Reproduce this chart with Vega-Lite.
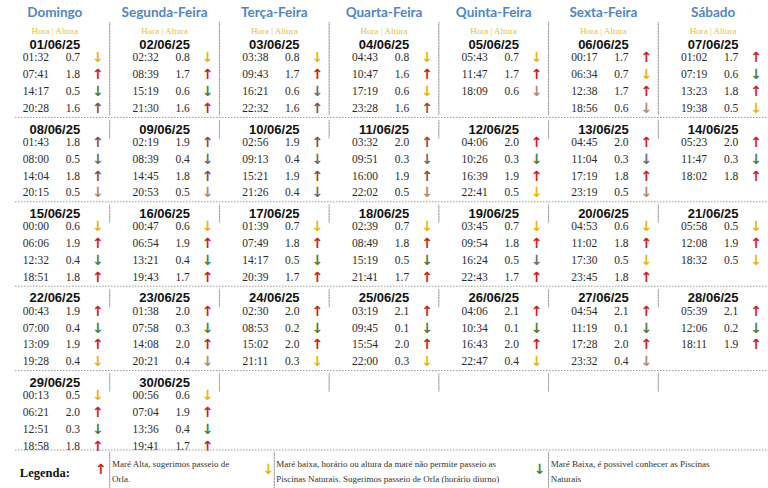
{
"$schema": "https://vega.github.io/schema/vega-lite/v6.json",
"width": 768, "height": 488, "padding": 0, "autosize": {"type": "none"},
"background": "white",
"config": {"view": {"stroke": null}},
"datasets": {
"dias": [{"dia":"Domingo"},{"dia":"Segunda-Feira"},{"dia":"Terça-Feira"},{"dia":"Quarta-Feira"},{"dia":"Quinta-Feira"},{"dia":"Sexta-Feira"},{"dia":"Sábado"}],
"grade": [
{"semana":1,"dias":["Domingo","Segunda-Feira","Terça-Feira","Quarta-Feira","Quinta-Feira","Sexta-Feira"]},
{"semana":2,"dias":["Domingo","Segunda-Feira","Terça-Feira","Quarta-Feira","Quinta-Feira","Sexta-Feira"]},
{"semana":3,"dias":["Domingo","Segunda-Feira","Terça-Feira","Quarta-Feira","Quinta-Feira","Sexta-Feira"]},
{"semana":4,"dias":["Domingo","Segunda-Feira","Terça-Feira","Quarta-Feira","Quinta-Feira","Sexta-Feira"]},
{"semana":5,"dias":["Domingo","Segunda-Feira","Terça-Feira","Quarta-Feira","Quinta-Feira","Sexta-Feira"]}
],
"legenda": [
{"item":"alta","dia":"Domingo","dia_texto":"Segunda-Feira","seta":"↑","tipo":"alta","texto":["Maré Alta, sugerimos passeio de","Orla."]},
{"item":"baixa","dia":"Terça-Feira","dia_texto":"Terça-Feira","seta":"↓","tipo":"baixa","texto":["Maré baixa, horário ou altura da maré não permite passeio as","Piscinas Naturais. Sugerimos passeio de Orla (horário diurno)"]},
{"item":"piscina","dia":"Quinta-Feira","dia_texto":"Sexta-Feira","seta":"↓","tipo":"piscina","texto":["Maré Baixa, é possivel conhecer as Piscinas","Naturais"]}
],
"mares": [
{"data":"01/06/25","dia":"Domingo","semana":1,"linha":1,"hora":"01:32","altura":0.7,"seta":"↓","tipo":"baixa"},
{"data":"01/06/25","dia":"Domingo","semana":1,"linha":2,"hora":"07:41","altura":1.8,"seta":"↑","tipo":"alta"},
{"data":"01/06/25","dia":"Domingo","semana":1,"linha":3,"hora":"14:17","altura":0.5,"seta":"↓","tipo":"piscina"},
{"data":"01/06/25","dia":"Domingo","semana":1,"linha":4,"hora":"20:28","altura":1.6,"seta":"↑","tipo":"alta_esc"},
{"data":"02/06/25","dia":"Segunda-Feira","semana":1,"linha":1,"hora":"02:32","altura":0.8,"seta":"↓","tipo":"baixa"},
{"data":"02/06/25","dia":"Segunda-Feira","semana":1,"linha":2,"hora":"08:39","altura":1.7,"seta":"↑","tipo":"alta"},
{"data":"02/06/25","dia":"Segunda-Feira","semana":1,"linha":3,"hora":"15:19","altura":0.6,"seta":"↓","tipo":"piscina"},
{"data":"02/06/25","dia":"Segunda-Feira","semana":1,"linha":4,"hora":"21:30","altura":1.6,"seta":"↑","tipo":"alta"},
{"data":"03/06/25","dia":"Terça-Feira","semana":1,"linha":1,"hora":"03:38","altura":0.8,"seta":"↓","tipo":"baixa"},
{"data":"03/06/25","dia":"Terça-Feira","semana":1,"linha":2,"hora":"09:43","altura":1.7,"seta":"↑","tipo":"alta"},
{"data":"03/06/25","dia":"Terça-Feira","semana":1,"linha":3,"hora":"16:21","altura":0.6,"seta":"↓","tipo":"piscina_esc"},
{"data":"03/06/25","dia":"Terça-Feira","semana":1,"linha":4,"hora":"22:32","altura":1.6,"seta":"↑","tipo":"alta_esc"},
{"data":"04/06/25","dia":"Quarta-Feira","semana":1,"linha":1,"hora":"04:43","altura":0.8,"seta":"↓","tipo":"baixa"},
{"data":"04/06/25","dia":"Quarta-Feira","semana":1,"linha":2,"hora":"10:47","altura":1.6,"seta":"↑","tipo":"alta"},
{"data":"04/06/25","dia":"Quarta-Feira","semana":1,"linha":3,"hora":"17:19","altura":0.6,"seta":"↓","tipo":"baixa"},
{"data":"04/06/25","dia":"Quarta-Feira","semana":1,"linha":4,"hora":"23:28","altura":1.6,"seta":"↑","tipo":"alta_esc"},
{"data":"05/06/25","dia":"Quinta-Feira","semana":1,"linha":1,"hora":"05:43","altura":0.7,"seta":"↓","tipo":"baixa"},
{"data":"05/06/25","dia":"Quinta-Feira","semana":1,"linha":2,"hora":"11:47","altura":1.7,"seta":"↑","tipo":"alta"},
{"data":"05/06/25","dia":"Quinta-Feira","semana":1,"linha":3,"hora":"18:09","altura":0.6,"seta":"↓","tipo":"baixa_esc"},
{"data":"06/06/25","dia":"Sexta-Feira","semana":1,"linha":1,"hora":"00:17","altura":1.7,"seta":"↑","tipo":"alta"},
{"data":"06/06/25","dia":"Sexta-Feira","semana":1,"linha":2,"hora":"06:34","altura":0.7,"seta":"↓","tipo":"baixa"},
{"data":"06/06/25","dia":"Sexta-Feira","semana":1,"linha":3,"hora":"12:38","altura":1.7,"seta":"↑","tipo":"alta"},
{"data":"06/06/25","dia":"Sexta-Feira","semana":1,"linha":4,"hora":"18:56","altura":0.6,"seta":"↓","tipo":"baixa_esc"},
{"data":"07/06/25","dia":"Sábado","semana":1,"linha":1,"hora":"01:02","altura":1.7,"seta":"↑","tipo":"alta"},
{"data":"07/06/25","dia":"Sábado","semana":1,"linha":2,"hora":"07:19","altura":0.6,"seta":"↓","tipo":"piscina"},
{"data":"07/06/25","dia":"Sábado","semana":1,"linha":3,"hora":"13:23","altura":1.8,"seta":"↑","tipo":"alta"},
{"data":"07/06/25","dia":"Sábado","semana":1,"linha":4,"hora":"19:38","altura":0.5,"seta":"↓","tipo":"baixa"},
{"data":"08/06/25","dia":"Domingo","semana":2,"linha":1,"hora":"01:43","altura":1.8,"seta":"↑","tipo":"alta_esc"},
{"data":"08/06/25","dia":"Domingo","semana":2,"linha":2,"hora":"08:00","altura":0.5,"seta":"↓","tipo":"piscina_esc"},
{"data":"08/06/25","dia":"Domingo","semana":2,"linha":3,"hora":"14:04","altura":1.8,"seta":"↑","tipo":"alta_esc"},
{"data":"08/06/25","dia":"Domingo","semana":2,"linha":4,"hora":"20:15","altura":0.5,"seta":"↓","tipo":"baixa_esc"},
{"data":"09/06/25","dia":"Segunda-Feira","semana":2,"linha":1,"hora":"02:19","altura":1.9,"seta":"↑","tipo":"alta_esc"},
{"data":"09/06/25","dia":"Segunda-Feira","semana":2,"linha":2,"hora":"08:39","altura":0.4,"seta":"↓","tipo":"piscina_esc"},
{"data":"09/06/25","dia":"Segunda-Feira","semana":2,"linha":3,"hora":"14:45","altura":1.8,"seta":"↑","tipo":"alta_esc"},
{"data":"09/06/25","dia":"Segunda-Feira","semana":2,"linha":4,"hora":"20:53","altura":0.5,"seta":"↓","tipo":"baixa_esc"},
{"data":"10/06/25","dia":"Terça-Feira","semana":2,"linha":1,"hora":"02:56","altura":1.9,"seta":"↑","tipo":"alta_esc"},
{"data":"10/06/25","dia":"Terça-Feira","semana":2,"linha":2,"hora":"09:13","altura":0.4,"seta":"↓","tipo":"piscina_esc"},
{"data":"10/06/25","dia":"Terça-Feira","semana":2,"linha":3,"hora":"15:21","altura":1.9,"seta":"↑","tipo":"alta_esc"},
{"data":"10/06/25","dia":"Terça-Feira","semana":2,"linha":4,"hora":"21:26","altura":0.4,"seta":"↓","tipo":"piscina_esc"},
{"data":"11/06/25","dia":"Quarta-Feira","semana":2,"linha":1,"hora":"03:32","altura":2.0,"seta":"↑","tipo":"alta_esc"},
{"data":"11/06/25","dia":"Quarta-Feira","semana":2,"linha":2,"hora":"09:51","altura":0.3,"seta":"↓","tipo":"piscina_esc"},
{"data":"11/06/25","dia":"Quarta-Feira","semana":2,"linha":3,"hora":"16:00","altura":1.9,"seta":"↑","tipo":"alta_esc"},
{"data":"11/06/25","dia":"Quarta-Feira","semana":2,"linha":4,"hora":"22:02","altura":0.5,"seta":"↓","tipo":"baixa_esc"},
{"data":"12/06/25","dia":"Quinta-Feira","semana":2,"linha":1,"hora":"04:06","altura":2.0,"seta":"↑","tipo":"alta"},
{"data":"12/06/25","dia":"Quinta-Feira","semana":2,"linha":2,"hora":"10:26","altura":0.3,"seta":"↓","tipo":"piscina"},
{"data":"12/06/25","dia":"Quinta-Feira","semana":2,"linha":3,"hora":"16:39","altura":1.9,"seta":"↑","tipo":"alta"},
{"data":"12/06/25","dia":"Quinta-Feira","semana":2,"linha":4,"hora":"22:41","altura":0.5,"seta":"↓","tipo":"baixa"},
{"data":"13/06/25","dia":"Sexta-Feira","semana":2,"linha":1,"hora":"04:45","altura":2.0,"seta":"↑","tipo":"alta"},
{"data":"13/06/25","dia":"Sexta-Feira","semana":2,"linha":2,"hora":"11:04","altura":0.3,"seta":"↓","tipo":"piscina_esc"},
{"data":"13/06/25","dia":"Sexta-Feira","semana":2,"linha":3,"hora":"17:19","altura":1.8,"seta":"↑","tipo":"alta"},
{"data":"13/06/25","dia":"Sexta-Feira","semana":2,"linha":4,"hora":"23:19","altura":0.5,"seta":"↓","tipo":"baixa_esc"},
{"data":"14/06/25","dia":"Sábado","semana":2,"linha":1,"hora":"05:23","altura":2.0,"seta":"↑","tipo":"alta"},
{"data":"14/06/25","dia":"Sábado","semana":2,"linha":2,"hora":"11:47","altura":0.3,"seta":"↓","tipo":"piscina"},
{"data":"14/06/25","dia":"Sábado","semana":2,"linha":3,"hora":"18:02","altura":1.8,"seta":"↑","tipo":"alta"},
{"data":"15/06/25","dia":"Domingo","semana":3,"linha":1,"hora":"00:00","altura":0.6,"seta":"↓","tipo":"baixa"},
{"data":"15/06/25","dia":"Domingo","semana":3,"linha":2,"hora":"06:06","altura":1.9,"seta":"↑","tipo":"alta"},
{"data":"15/06/25","dia":"Domingo","semana":3,"linha":3,"hora":"12:32","altura":0.4,"seta":"↓","tipo":"piscina"},
{"data":"15/06/25","dia":"Domingo","semana":3,"linha":4,"hora":"18:51","altura":1.8,"seta":"↑","tipo":"alta"},
{"data":"16/06/25","dia":"Segunda-Feira","semana":3,"linha":1,"hora":"00:47","altura":0.6,"seta":"↓","tipo":"baixa"},
{"data":"16/06/25","dia":"Segunda-Feira","semana":3,"linha":2,"hora":"06:54","altura":1.9,"seta":"↑","tipo":"alta"},
{"data":"16/06/25","dia":"Segunda-Feira","semana":3,"linha":3,"hora":"13:21","altura":0.4,"seta":"↓","tipo":"piscina"},
{"data":"16/06/25","dia":"Segunda-Feira","semana":3,"linha":4,"hora":"19:43","altura":1.7,"seta":"↑","tipo":"alta"},
{"data":"17/06/25","dia":"Terça-Feira","semana":3,"linha":1,"hora":"01:39","altura":0.7,"seta":"↓","tipo":"baixa"},
{"data":"17/06/25","dia":"Terça-Feira","semana":3,"linha":2,"hora":"07:49","altura":1.8,"seta":"↑","tipo":"alta"},
{"data":"17/06/25","dia":"Terça-Feira","semana":3,"linha":3,"hora":"14:17","altura":0.5,"seta":"↓","tipo":"piscina"},
{"data":"17/06/25","dia":"Terça-Feira","semana":3,"linha":4,"hora":"20:39","altura":1.7,"seta":"↑","tipo":"alta"},
{"data":"18/06/25","dia":"Quarta-Feira","semana":3,"linha":1,"hora":"02:39","altura":0.7,"seta":"↓","tipo":"baixa"},
{"data":"18/06/25","dia":"Quarta-Feira","semana":3,"linha":2,"hora":"08:49","altura":1.8,"seta":"↑","tipo":"alta"},
{"data":"18/06/25","dia":"Quarta-Feira","semana":3,"linha":3,"hora":"15:19","altura":0.5,"seta":"↓","tipo":"piscina"},
{"data":"18/06/25","dia":"Quarta-Feira","semana":3,"linha":4,"hora":"21:41","altura":1.7,"seta":"↑","tipo":"alta"},
{"data":"19/06/25","dia":"Quinta-Feira","semana":3,"linha":1,"hora":"03:45","altura":0.7,"seta":"↓","tipo":"baixa"},
{"data":"19/06/25","dia":"Quinta-Feira","semana":3,"linha":2,"hora":"09:54","altura":1.8,"seta":"↑","tipo":"alta"},
{"data":"19/06/25","dia":"Quinta-Feira","semana":3,"linha":3,"hora":"16:24","altura":0.5,"seta":"↓","tipo":"piscina_esc"},
{"data":"19/06/25","dia":"Quinta-Feira","semana":3,"linha":4,"hora":"22:43","altura":1.7,"seta":"↑","tipo":"alta"},
{"data":"20/06/25","dia":"Sexta-Feira","semana":3,"linha":1,"hora":"04:53","altura":0.6,"seta":"↓","tipo":"baixa"},
{"data":"20/06/25","dia":"Sexta-Feira","semana":3,"linha":2,"hora":"11:02","altura":1.8,"seta":"↑","tipo":"alta"},
{"data":"20/06/25","dia":"Sexta-Feira","semana":3,"linha":3,"hora":"17:30","altura":0.5,"seta":"↓","tipo":"baixa"},
{"data":"20/06/25","dia":"Sexta-Feira","semana":3,"linha":4,"hora":"23:45","altura":1.8,"seta":"↑","tipo":"alta"},
{"data":"21/06/25","dia":"Sábado","semana":3,"linha":1,"hora":"05:58","altura":0.5,"seta":"↓","tipo":"baixa"},
{"data":"21/06/25","dia":"Sábado","semana":3,"linha":2,"hora":"12:08","altura":1.9,"seta":"↑","tipo":"alta"},
{"data":"21/06/25","dia":"Sábado","semana":3,"linha":3,"hora":"18:32","altura":0.5,"seta":"↓","tipo":"baixa"},
{"data":"22/06/25","dia":"Domingo","semana":4,"linha":1,"hora":"00:43","altura":1.9,"seta":"↑","tipo":"alta"},
{"data":"22/06/25","dia":"Domingo","semana":4,"linha":2,"hora":"07:00","altura":0.4,"seta":"↓","tipo":"piscina"},
{"data":"22/06/25","dia":"Domingo","semana":4,"linha":3,"hora":"13:09","altura":1.9,"seta":"↑","tipo":"alta"},
{"data":"22/06/25","dia":"Domingo","semana":4,"linha":4,"hora":"19:28","altura":0.4,"seta":"↓","tipo":"baixa"},
{"data":"23/06/25","dia":"Segunda-Feira","semana":4,"linha":1,"hora":"01:38","altura":2.0,"seta":"↑","tipo":"alta"},
{"data":"23/06/25","dia":"Segunda-Feira","semana":4,"linha":2,"hora":"07:58","altura":0.3,"seta":"↓","tipo":"piscina"},
{"data":"23/06/25","dia":"Segunda-Feira","semana":4,"linha":3,"hora":"14:08","altura":2.0,"seta":"↑","tipo":"alta"},
{"data":"23/06/25","dia":"Segunda-Feira","semana":4,"linha":4,"hora":"20:21","altura":0.4,"seta":"↓","tipo":"baixa_esc"},
{"data":"24/06/25","dia":"Terça-Feira","semana":4,"linha":1,"hora":"02:30","altura":2.0,"seta":"↑","tipo":"alta"},
{"data":"24/06/25","dia":"Terça-Feira","semana":4,"linha":2,"hora":"08:53","altura":0.2,"seta":"↓","tipo":"piscina"},
{"data":"24/06/25","dia":"Terça-Feira","semana":4,"linha":3,"hora":"15:02","altura":2.0,"seta":"↑","tipo":"alta"},
{"data":"24/06/25","dia":"Terça-Feira","semana":4,"linha":4,"hora":"21:11","altura":0.3,"seta":"↓","tipo":"baixa"},
{"data":"25/06/25","dia":"Quarta-Feira","semana":4,"linha":1,"hora":"03:19","altura":2.1,"seta":"↑","tipo":"alta"},
{"data":"25/06/25","dia":"Quarta-Feira","semana":4,"linha":2,"hora":"09:45","altura":0.1,"seta":"↓","tipo":"piscina"},
{"data":"25/06/25","dia":"Quarta-Feira","semana":4,"linha":3,"hora":"15:54","altura":2.0,"seta":"↑","tipo":"alta"},
{"data":"25/06/25","dia":"Quarta-Feira","semana":4,"linha":4,"hora":"22:00","altura":0.3,"seta":"↓","tipo":"baixa"},
{"data":"26/06/25","dia":"Quinta-Feira","semana":4,"linha":1,"hora":"04:06","altura":2.1,"seta":"↑","tipo":"alta"},
{"data":"26/06/25","dia":"Quinta-Feira","semana":4,"linha":2,"hora":"10:34","altura":0.1,"seta":"↓","tipo":"piscina"},
{"data":"26/06/25","dia":"Quinta-Feira","semana":4,"linha":3,"hora":"16:43","altura":2.0,"seta":"↑","tipo":"alta"},
{"data":"26/06/25","dia":"Quinta-Feira","semana":4,"linha":4,"hora":"22:47","altura":0.4,"seta":"↓","tipo":"baixa"},
{"data":"27/06/25","dia":"Sexta-Feira","semana":4,"linha":1,"hora":"04:54","altura":2.1,"seta":"↑","tipo":"alta"},
{"data":"27/06/25","dia":"Sexta-Feira","semana":4,"linha":2,"hora":"11:19","altura":0.1,"seta":"↓","tipo":"piscina"},
{"data":"27/06/25","dia":"Sexta-Feira","semana":4,"linha":3,"hora":"17:28","altura":2.0,"seta":"↑","tipo":"alta"},
{"data":"27/06/25","dia":"Sexta-Feira","semana":4,"linha":4,"hora":"23:32","altura":0.4,"seta":"↓","tipo":"baixa_esc"},
{"data":"28/06/25","dia":"Sábado","semana":4,"linha":1,"hora":"05:39","altura":2.1,"seta":"↑","tipo":"alta"},
{"data":"28/06/25","dia":"Sábado","semana":4,"linha":2,"hora":"12:06","altura":0.2,"seta":"↓","tipo":"piscina"},
{"data":"28/06/25","dia":"Sábado","semana":4,"linha":3,"hora":"18:11","altura":1.9,"seta":"↑","tipo":"alta"},
{"data":"29/06/25","dia":"Domingo","semana":5,"linha":1,"hora":"00:13","altura":0.5,"seta":"↓","tipo":"baixa"},
{"data":"29/06/25","dia":"Domingo","semana":5,"linha":2,"hora":"06:21","altura":2.0,"seta":"↑","tipo":"alta"},
{"data":"29/06/25","dia":"Domingo","semana":5,"linha":3,"hora":"12:51","altura":0.3,"seta":"↓","tipo":"piscina"},
{"data":"29/06/25","dia":"Domingo","semana":5,"linha":4,"hora":"18:58","altura":1.8,"seta":"↑","tipo":"alta"},
{"data":"30/06/25","dia":"Segunda-Feira","semana":5,"linha":1,"hora":"00:56","altura":0.6,"seta":"↓","tipo":"baixa"},
{"data":"30/06/25","dia":"Segunda-Feira","semana":5,"linha":2,"hora":"07:04","altura":1.9,"seta":"↑","tipo":"alta"},
{"data":"30/06/25","dia":"Segunda-Feira","semana":5,"linha":3,"hora":"13:36","altura":0.4,"seta":"↓","tipo":"piscina"},
{"data":"30/06/25","dia":"Segunda-Feira","semana":5,"linha":4,"hora":"19:41","altura":1.7,"seta":"↑","tipo":"alta"}
]
},
"layer": [
{"data":{"name":"dias"},
 "mark":{"type":"text","font":"Lato","fontWeight":"bold","fontSize":13.5,"color":"#4f86c6","dy":-62},
 "encoding":{
  "x":{"field":"dia","type":"ordinal","axis":null,"scale":{"domain":["Domingo","Segunda-Feira","Terça-Feira","Quarta-Feira","Quinta-Feira","Sexta-Feira","Sábado"],"paddingInner":0,"paddingOuter":0}},
  "y":{"datum":1,"type":"ordinal","axis":null,"scale":{"domain":[1,2,3,4,5],"paddingInner":0,"paddingOuter":0.391}},
  "text":{"field":"dia"}}},
{"data":{"name":"dias"},
 "mark":{"type":"text","font":"Liberation Serif","fontSize":9,"color":"#e6c23a","dy":-44},
 "encoding":{
  "x":{"field":"dia","type":"ordinal","axis":null},
  "y":{"datum":1,"type":"ordinal","axis":null},
  "text":{"value":"Hora | Altura"}}},
{"data":{"name":"mares"},
 "transform":[{"aggregate":[{"op":"count","as":"n"}],"groupby":["data","dia","semana"]}],
 "mark":{"type":"text","font":"Liberation Sans","fontWeight":"bold","fontSize":13,"color":"#111111","dy":-30},
 "encoding":{
  "x":{"field":"dia","type":"ordinal","axis":null},
  "y":{"field":"semana","type":"ordinal","axis":null},
  "text":{"field":"data"}}},
{"data":{"name":"mares"},
 "mark":{"type":"text","font":"Liberation Serif","fontSize":11.5,"color":"#2b2b2b","dx":-19},
 "encoding":{
  "x":{"field":"dia","type":"ordinal","axis":null},
  "y":{"field":"semana","type":"ordinal","axis":null},
  "yOffset":{"field":"linha","type":"ordinal","scale":{"type":"point","domain":[1,2,3,4],"padding":1.258,"align":0.753}},
  "text":{"field":"hora"}}},
{"data":{"name":"mares"},
 "mark":{"type":"text","font":"Liberation Serif","fontSize":11.5,"color":"#2b2b2b","dx":18},
 "encoding":{
  "x":{"field":"dia","type":"ordinal","axis":null},
  "y":{"field":"semana","type":"ordinal","axis":null},
  "yOffset":{"field":"linha","type":"ordinal"},
  "text":{"field":"altura","format":".1f"}}},
{"data":{"name":"mares"},
 "mark":{"type":"text","font":"DejaVu Sans","fontWeight":"bold","fontSize":14,"dx":43},
 "encoding":{
  "x":{"field":"dia","type":"ordinal","axis":null},
  "y":{"field":"semana","type":"ordinal","axis":null},
  "yOffset":{"field":"linha","type":"ordinal"},
  "color":{"field":"tipo","type":"nominal","legend":null,"scale":{"domain":["alta","alta_esc","baixa","baixa_esc","piscina","piscina_esc"],"range":["#d01c1c","#8a4f42","#f0b400","#b8876a","#4e7f3a","#6d6d6d"]}},
  "text":{"field":"seta"}}},
{"data":{"name":"grade"},
 "transform":[{"flatten":["dias"],"as":["dia"]},{"filter":"datum.semana > 1"}],
 "mark":{"type":"rect","filled":false,"color":"#9a9a9a","strokeWidth":1,"strokeDash":[1.5,1.5],"width":0.1,"height":{"band":0.93},"xOffset":54.86},
 "encoding":{
  "x":{"field":"dia","type":"ordinal","axis":null},
  "y":{"field":"semana","type":"ordinal","axis":null}}},
{"data":{"name":"grade"},
 "transform":[{"flatten":["dias"],"as":["dia"]},{"filter":"datum.semana == 1"}],
 "mark":{"type":"rect","filled":false,"color":"#9a9a9a","strokeWidth":1,"strokeDash":[1.5,1.5],"width":0.1,"height":93,"yOffset":-6.7,"xOffset":54.86},
 "encoding":{
  "x":{"field":"dia","type":"ordinal","axis":null},
  "y":{"field":"semana","type":"ordinal","axis":null}}},
{"data":{"values":[{"semana":1},{"semana":2},{"semana":3},{"semana":4}]},
 "mark":{"type":"rule","color":"#9a9a9a","strokeWidth":1,"strokeDash":[1.5,1.5],"xOffset":15,"x2Offset":94},
 "encoding":{
  "x":{"datum":"Domingo","type":"ordinal","bandPosition":0,"axis":null},
  "x2":{"datum":"Sábado"},
  "y":{"field":"semana","type":"ordinal","bandPosition":1,"axis":null}}},
{"data":{"values":[{"semana":5}]},
 "mark":{"type":"rule","color":"#9a9a9a","strokeWidth":1,"strokeDash":[1.5,1.5],"yOffset":-5,"xOffset":15,"x2Offset":94},
 "encoding":{
  "x":{"datum":"Domingo","type":"ordinal","bandPosition":0,"axis":null},
  "x2":{"datum":"Sábado"},
  "y":{"field":"semana","type":"ordinal","bandPosition":1,"axis":null}}},
{"data":{"values":[{"dia":"Domingo","texto":"Legenda:"}]},
 "mark":{"type":"text","align":"left","font":"Liberation Serif","fontWeight":"bold","fontSize":12.5,"color":"#111111","dx":-35,"dy":60},
 "encoding":{
  "x":{"field":"dia","type":"ordinal","axis":null},
  "y":{"datum":5,"type":"ordinal","axis":null},
  "text":{"field":"texto"}}},
{"data":{"name":"legenda"},
 "transform":[{"filter":"datum.item != 'baixa'"}],
 "mark":{"type":"text","font":"DejaVu Sans","fontWeight":"bold","fontSize":14,"dx":46,"dy":57},
 "encoding":{
  "x":{"field":"dia","type":"ordinal","axis":null},
  "y":{"datum":5,"type":"ordinal","axis":null},
  "color":{"field":"tipo","type":"nominal","legend":null},
  "text":{"field":"seta"}}},
{"data":{"name":"legenda"},
 "transform":[{"filter":"datum.item == 'baixa'"}],
 "mark":{"type":"text","font":"DejaVu Sans","fontWeight":"bold","fontSize":14,"dx":-6,"dy":57},
 "encoding":{
  "x":{"field":"dia","type":"ordinal","axis":null},
  "y":{"datum":5,"type":"ordinal","axis":null},
  "color":{"field":"tipo","type":"nominal","legend":null},
  "text":{"field":"seta"}}},
{"data":{"name":"legenda"},
 "transform":[{"filter":"datum.item != 'baixa'"}],
 "mark":{"type":"text","align":"left","font":"Liberation Serif","fontSize":9,"lineHeight":15,"color":"#333333","dx":-52.6,"dy":51.5},
 "encoding":{
  "x":{"field":"dia_texto","type":"ordinal","axis":null},
  "y":{"datum":5,"type":"ordinal","axis":null},
  "text":{"field":"texto"}}},
{"data":{"name":"legenda"},
 "transform":[{"filter":"datum.item == 'baixa'"}],
 "mark":{"type":"text","align":"left","font":"Liberation Serif","fontSize":9,"lineHeight":15,"color":"#333333","dx":2,"dy":51.5},
 "encoding":{
  "x":{"field":"dia_texto","type":"ordinal","axis":null},
  "y":{"datum":5,"type":"ordinal","axis":null},
  "text":{"field":"texto"}}},
{"data":{"name":"legenda"},
 "transform":[{"filter":"datum.item != 'baixa'"}],
 "mark":{"type":"rect","filled":false,"color":"#9a9a9a","strokeWidth":1,"strokeDash":[1.5,1.5],"width":0.1,"height":36,"yOffset":57.2,"xOffset":54.86},
 "encoding":{
  "x":{"field":"dia","type":"ordinal","axis":null},
  "y":{"datum":5,"type":"ordinal","axis":null}}},
{"data":{"name":"legenda"},
 "transform":[{"filter":"datum.item == 'baixa'"}],
 "mark":{"type":"rect","filled":false,"color":"#9a9a9a","strokeWidth":1,"strokeDash":[1.5,1.5],"width":0.1,"height":36,"yOffset":57.2},
 "encoding":{
  "x":{"field":"dia","type":"ordinal","axis":null},
  "y":{"datum":5,"type":"ordinal","axis":null}}}
]
}
